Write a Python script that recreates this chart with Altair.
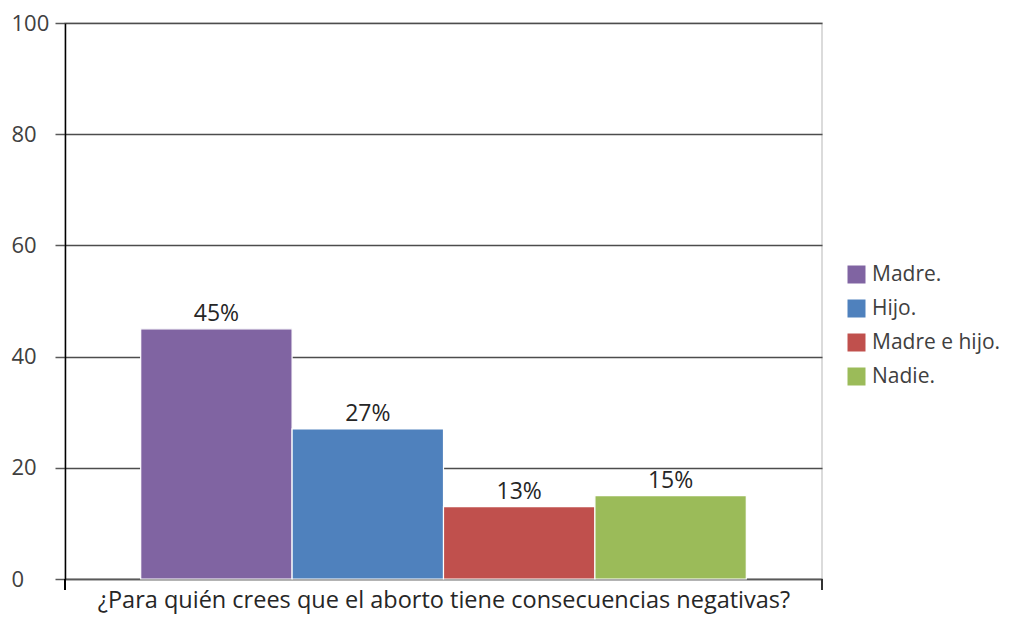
import altair as alt
import pandas as pd

series = ["Madre.", "Hijo.", "Madre e hijo.", "Nadie."]
values = [45, 27, 13, 15]
labels = ["45%", "27%", "13%", "15%"]
colors = ["#8064A2", "#4F81BD", "#C0504D", "#9BBB59"]
y_ticks = [0, 20, 40, 60, 80, 100]
x_title = "¿Para quién crees que el aborto tiene consecuencias negativas?"

df = pd.DataFrame({"serie": series, "valor": values, "etiqueta": labels})

W, H = 757, 556
FONT = "Open Sans"

xenc = alt.X(
    "serie:N",
    sort=series,
    scale=alt.Scale(paddingInner=0, paddingOuter=0.5),
    axis=alt.Axis(
        labels=False, ticks=False, title=x_title,
        domainColor="#595959", domainWidth=1.5,
        titleFont=FONT, titleFontSize=23.5, titleFontWeight="normal",
        titleColor="#262626", titlePadding=9,
    ),
)
yenc = alt.Y(
    "valor:Q",
    scale=alt.Scale(domain=[0, 100]),
    axis=alt.Axis(
        values=y_ticks, title=None,
        domainColor="#000000", domainWidth=1.5,
        gridColor="#4d4d4d", gridWidth=1.5,
        tickColor="#595959", tickSize=10, tickWidth=1.5,
        labelAlign="left", labelPadding=44,
        labelFont=FONT, labelFontSize=22, labelColor="#404040",
    ),
)

bars = alt.Chart(df).mark_bar(stroke="white", strokeWidth=1.2).encode(
    x=xenc,
    y=yenc,
    color=alt.Color(
        "serie:N",
        sort=series,
        scale=alt.Scale(domain=series, range=colors),
        legend=alt.Legend(
            title=None, orient="none", legendX=781, legendY=241,
            symbolType="square", symbolSize=324, symbolStrokeWidth=0,
            labelFont=FONT, labelFontSize=21, labelColor="#404040",
            rowPadding=12, labelOffset=5, labelLimit=200,
        ),
    ),
)

text = alt.Chart(df).mark_text(
    baseline="alphabetic", dy=-8, font=FONT, fontSize=23, color="#262626"
).encode(x=alt.X("serie:N", sort=series), y="valor:Q", text="etiqueta:N")

tick_left = alt.Chart(df).mark_rule(color="#000000", strokeWidth=1.5).encode(
    x=alt.value(0), y=alt.value(H), y2=alt.value(H + 11)
)
tick_right = alt.Chart(df).mark_rule(color="#333333", strokeWidth=1.5).encode(
    x=alt.value(W), y=alt.value(H), y2=alt.value(H + 11)
)

chart = (
    alt.layer(bars, text, tick_left, tick_right)
    .properties(
        width=W, height=H,
        autosize=alt.AutoSizeParams(type="none"),
        padding={"left": 57, "top": 15, "right": 186, "bottom": 37},
        background="white",
    )
    .configure_view(stroke="#cfcfcf", strokeWidth=1.5)
)

chart.save("out.html", embed_options={"renderer": "svg", "actions": False})
